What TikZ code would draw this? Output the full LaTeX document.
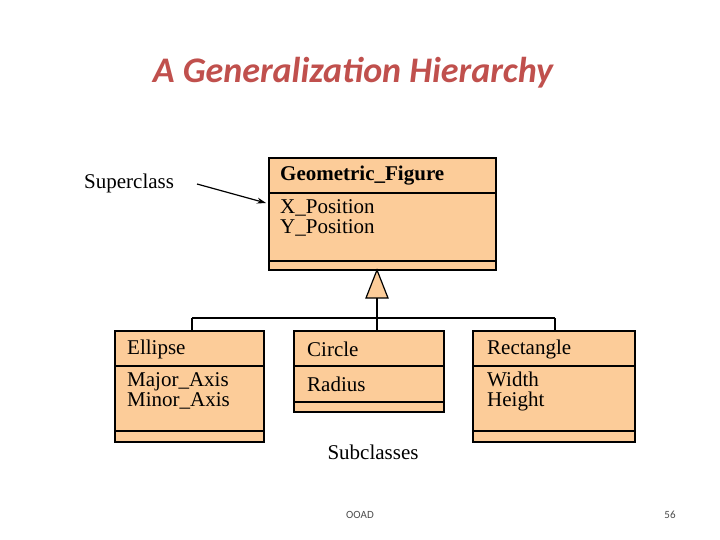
\documentclass[tikz,border=0pt]{standalone}
\usepackage{fontspec}
\setmainfont{Liberation Serif}
\newfontfamily\titlefont{Carlito}
\usetikzlibrary{arrows.meta}
\definecolor{peach}{RGB}{252,204,153}
\definecolor{titlered}{RGB}{192,80,77}
\tikzset{
 cls/.style={draw=black,line width=1.2pt,fill=peach},
 sep/.style={line width=1.2pt},
 lbl/.style={anchor=west,inner sep=0pt,font=\fontsize{21}{24}\selectfont},
 hdr/.style={anchor=west,inner sep=0pt,font=\fontsize{21}{24}\selectfont\bfseries},
 conn/.style={line width=1.2pt}
}
\begin{document}
\begin{tikzpicture}[x=1pt,y=-1pt]
\useasboundingbox (0,0) rectangle (720,540);
\node[text=titlered,font=\titlefont\fontsize{36}{40}\selectfont\bfseries\itshape] (title) at (353,73) {A Generalization Hierarchy};
% Geometric figure
\draw[cls] (269,158) rectangle (496,270);
\draw[sep] (269,193) -- (496,193); \draw[sep] (269,261) -- (496,261);
\node[hdr] (gf) at (280,176) {Geometric\_Figure};
\node[lbl,align=left,anchor=north west] (gfa) at (280,199) {X\_Position\\[-4pt]Y\_Position};
% Ellipse
\draw[cls] (115,331) rectangle (264,442);
\draw[sep] (115,366) -- (264,366); \draw[sep] (115,431) -- (264,431);
\node[hdr,font=\fontsize{21}{24}\selectfont] (el) at (127,349) {Ellipse};
\node[lbl,align=left,anchor=north west] (ela) at (127,372) {Major\_Axis\\[-4pt]Minor\_Axis};
% Circle
\draw[cls] (294,331) rectangle (444,412);
\draw[sep] (294,366) -- (444,366); \draw[sep] (294,402) -- (444,402);
\node[lbl] (ci) at (307,349) {Circle};
\node[lbl] (cia) at (307,384) {Radius};
% Rectangle
\draw[cls] (473,331) rectangle (635,442);
\draw[sep] (473,366) -- (635,366); \draw[sep] (473,431) -- (635,431);
\node[lbl] (re) at (487,349) {Rectangle};
\node[lbl,align=left,anchor=north west] (rea) at (487,372) {Width\\[-4pt]Height};
% generalization
\coordinate (apex) at (377,270);
\coordinate (tb) at (377,298);
\coordinate (j) at (377,318);
\coordinate (jl) at (192,318);
\coordinate (jr) at (555,318);
\draw[conn,fill=peach] (apex) -- (366,298) -- (388,298) -- cycle;
\draw[conn] (tb) -- (j);
\draw[conn] (jl) -- (jr);
\draw[conn] (jl) -- (192,331);
\draw[conn] (j) -- (377,331);
\draw[conn] (jr) -- (555,331);
% labels
\node[lbl] (sup) at (84,183) {Superclass};
\coordinate (arrend) at (266,203);
\draw[line width=1.2pt,-{Stealth[length=9pt,width=6pt]}] (197,184) -- (arrend);
\node[font=\fontsize{21}{24}\selectfont] (sub) at (373,452) {Subclasses};
\node[font=\titlefont\fontsize{11}{13}\selectfont,text=black!70] (ooad) at (360,515) {OOAD};
\node[font=\titlefont\fontsize{11}{13}\selectfont,text=black!70] (pg) at (670,515) {56};
\end{tikzpicture}
\end{document}
